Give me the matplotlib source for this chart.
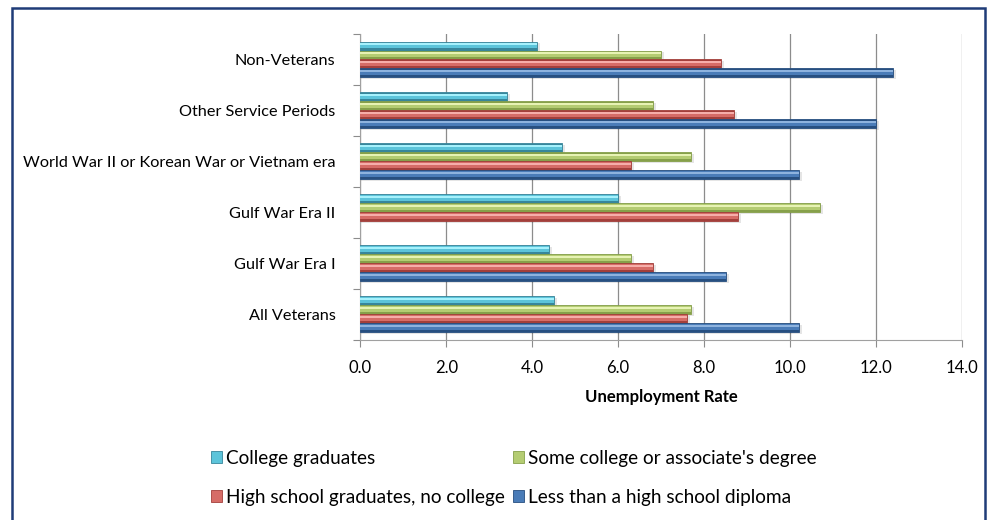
import numpy as np
import matplotlib
matplotlib.use("Agg")
import matplotlib.pyplot as plt
from matplotlib.patches import Patch, Rectangle

plt.rcParams["font.family"] = ["Lato", "DejaVu Sans"]

categories = [
    "All Veterans",
    "Gulf War Era I",
    "Gulf War Era II",
    "World War II or Korean War or Vietnam era",
    "Other Service Periods",
    "Non-Veterans",
]
college_grads = [4.5, 4.4, 6.0, 4.7, 3.4, 4.1]
some_college = [7.7, 6.3, 10.7, 7.7, 6.8, 7.0]
high_school = [7.6, 6.8, 8.8, 6.3, 8.7, 8.4]
less_than_hs = [10.2, 8.5, np.nan, 10.2, 12.0, 12.4]

series_names = [
    "College graduates",
    "Some college or associate's degree",
    "High school graduates, no college",
    "Less than a high school diploma",
]
series_values = [college_grads, some_college, high_school, less_than_hs]
# (dark edge, mid body, light highlight)
series_colors = [
    ("#37869b", "#5cc4da", "#a6f1fc"),
    ("#86a04a", "#b4cc72", "#e7f3b4"),
    ("#a33f3b", "#d66c67", "#f6aeaa"),
    ("#274f80", "#4a7cb8", "#8eb3de"),
]

fig = plt.figure(figsize=(9.92, 5.2), dpi=100)
ax = fig.add_axes([0.3634, 0.3471, 0.6061, 0.5875])

y = np.arange(len(categories))
h = 0.176
offsets = [1.5 * h, 0.5 * h, -0.5 * h, -1.5 * h]

for vals, off, (dark, mid, light) in zip(series_values, offsets, series_colors):
    vals = np.asarray(vals, dtype=float)
    ok = ~np.isnan(vals)
    yy = y[ok] + off
    vv = vals[ok]
    # soft shadow
    ax.barh(yy - 0.035, vv + 0.07, height=h, color="#000000", alpha=0.10,
            linewidth=0, zorder=2)
    ax.barh(yy, vv, height=h, color=dark, edgecolor=dark, linewidth=0.6, zorder=3)
    ax.barh(yy + h * 0.06, vv, height=h * 0.62, color=mid, linewidth=0, zorder=4)
    ax.barh(yy + h * 0.2, vv, height=h * 0.22, color=light, linewidth=0, zorder=5)

ax.set_xlim(0, 14)
ax.set_ylim(-0.5, len(categories) - 0.5)
ax.set_xticks(np.arange(0, 14.1, 2))
ax.set_xticklabels([f"{v:.1f}" for v in np.arange(0, 14.1, 2)], fontsize=12)
ax.set_yticks(y)
ax.set_yticklabels(categories, fontsize=11.7)
ax.set_yticks(np.arange(-0.5, len(categories), 1), minor=True)
ax.tick_params(axis="y", which="major", length=0, pad=18)
ax.tick_params(axis="y", which="minor", length=5, color="#8c8c8c", width=0.8)
ax.tick_params(axis="x", length=5, color="#8c8c8c", width=0.8, pad=10)
ax.xaxis.grid(True, color="#8c8c8c", linewidth=0.9)
ax.set_axisbelow(True)
for side in ["top", "right"]:
    ax.spines[side].set_visible(False)
for side in ["left", "bottom"]:
    ax.spines[side].set_color("#a0a0a0")
    ax.spines[side].set_linewidth(0.8)
ax.set_xlabel("Unemployment Rate", fontsize=12, fontweight="bold", labelpad=9)

handles = [Patch(facecolor=series_colors[i][1], edgecolor=series_colors[i][0], linewidth=0.6)
           for i in range(4)]
order = [0, 2, 1, 3]
fig.legend([handles[i] for i in order], [series_names[i] for i in order],
           ncol=2, loc="upper left", bbox_to_anchor=(0.2127, 0.1345),
           frameon=False, fontsize=13.7, handlelength=0.6, handleheight=0.6,
           handletextpad=0.2, columnspacing=0.4, labelspacing=1.15,
           borderaxespad=0, borderpad=0)

fig.patches.append(Rectangle((12 / 992, -0.02), (985 - 12) / 992, 1 - 8 / 520 + 0.02,
                             transform=fig.transFigure, fill=False,
                             edgecolor="#1f3c78", linewidth=1.8))

fig.savefig("out.png", dpi=100)
